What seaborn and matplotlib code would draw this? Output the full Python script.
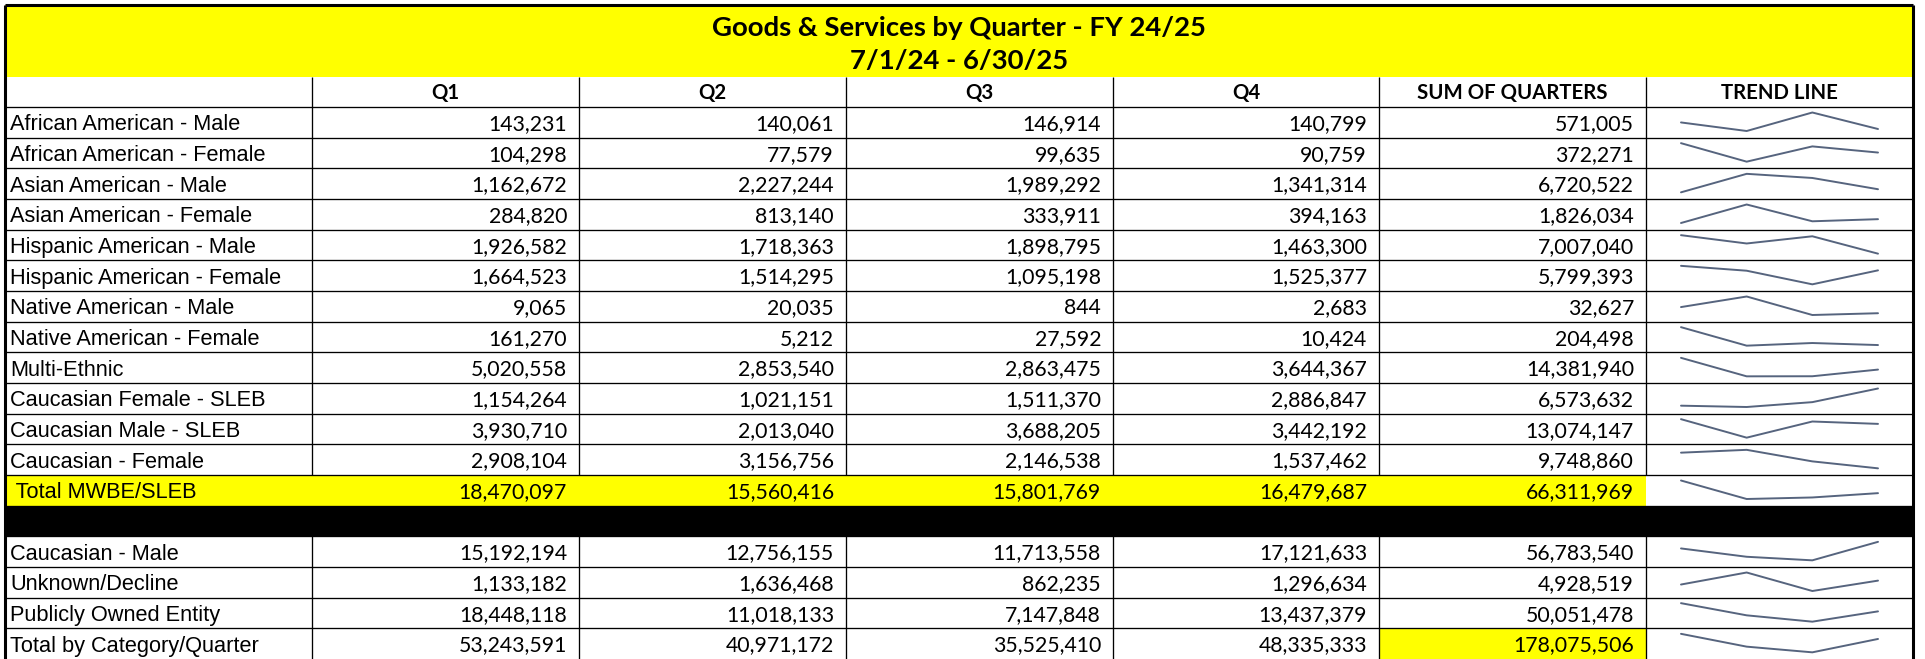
import matplotlib
matplotlib.use("Agg")
import matplotlib.pyplot as plt
from matplotlib import font_manager
import seaborn as sns
import numpy as np
import pandas as pd

# ---------------- data ----------------
title = "Goods & Services by Quarter - FY 24/25"
subtitle = "7/1/24 - 6/30/25"
header_labels = ["Q1", "Q2", "Q3", "Q4", "SUM OF QUARTERS", "TREND LINE"]
quarters = ["Q1", "Q2", "Q3", "Q4"]

categories = [
    "African American - Male",
    "African American - Female",
    "Asian American - Male",
    "Asian American - Female",
    "Hispanic American - Male",
    "Hispanic American - Female",
    "Native American - Male",
    "Native American - Female",
    "Multi-Ethnic",
    "Caucasian Female - SLEB",
    "Caucasian Male - SLEB",
    "Caucasian - Female",
    " Total MWBE/SLEB",
    "Caucasian - Male",
    "Unknown/Decline",
    "Publicly Owned Entity",
    "Total by Category/Quarter",
]
q1 = [143231, 104298, 1162672, 284820, 1926582, 1664523, 9065, 161270, 5020558,
      1154264, 3930710, 2908104, 18470097, 15192194, 1133182, 18448118, 53243591]
q2 = [140061, 77579, 2227244, 813140, 1718363, 1514295, 20035, 5212, 2853540,
      1021151, 2013040, 3156756, 15560416, 12756155, 1636468, 11018133, 40971172]
q3 = [146914, 99635, 1989292, 333911, 1898795, 1095198, 844, 27592, 2863475,
      1511370, 3688205, 2146538, 15801769, 11713558, 862235, 7147848, 35525410]
q4 = [140799, 90759, 1341314, 394163, 1463300, 1525377, 2683, 10424, 3644367,
      2886847, 3442192, 1537462, 16479687, 17121633, 1296634, 13437379, 48335333]
sum_of_quarters = [571005, 372271, 6720522, 1826034, 7007040, 5799393, 32627, 204498,
                   14381940, 6573632, 13074147, 9748860, 66311969, 56783540, 4928519,
                   50051478, 178075506]

TOTAL_MWBE_IDX = 12          # yellow subtotal row
GRAND_TOTAL_IDX = 16         # last row, yellow sum cell

# ---------------- layout (pixels) ----------------
W, H = 1925, 659
DPI = 100
LEFT, RIGHT, TOP = 5, 1913, 5
TITLE_BOTTOM, HEADER_BOTTOM = 77, 107
col_edges = [LEFT, 312, 579, 846, 1113, 1379, 1646, RIGHT]
n_disp_rows = len(categories) + 1            # plus black separator row
row_h = (H - HEADER_BOTTOM) / n_disp_rows
YELLOW = "#FFFF00"
SPARK = "#56647E"

def disp_row(i):
    return i if i <= TOTAL_MWBE_IDX else i + 1

def row_top(r):
    return HEADER_BOTTOM + r * row_h

fig = plt.figure(figsize=(W / DPI, H / DPI), dpi=DPI)
fig.patch.set_facecolor("white")
ax = fig.add_axes([0, 0, 1, 1])
ax.set_xlim(0, W)
ax.set_ylim(H, 0)
ax.axis("off")
renderer = fig.canvas.get_renderer()

avail = {f.name for f in font_manager.fontManager.ttflist}
label_font = "Liberation Sans Narrow" if "Liberation Sans Narrow" in avail else "Liberation Sans"
num_font = "Lato" if "Lato" in avail else "Open Sans"

def fit(s, target, **kw):
    t = ax.text(0, 0, s, fontsize=10, **kw)
    w = t.get_window_extent(renderer).width
    t.remove()
    return 10 * target / w

fs_label = fit("African American - Male", 233, family=label_font)
fs_num = fit("18,470,097", 108, family=num_font)
fs_title = fit(title, 496, family=num_font, weight="bold")
fs_head = fit("SUM OF QUARTERS", 190, family=num_font, weight="bold")

def px(fs):
    return fs * DPI / 72.0

# ---------------- fills ----------------
ax.fill_between([LEFT, RIGHT], TOP, TITLE_BOTTOM, color=YELLOW, lw=0, zorder=0)
r = disp_row(TOTAL_MWBE_IDX)
ax.fill_between([LEFT, col_edges[6]], row_top(r), row_top(r + 1), color=YELLOW, lw=0, zorder=0)
rb = TOTAL_MWBE_IDX + 1
ax.fill_between([LEFT, RIGHT + 2], row_top(rb), row_top(rb + 1), color="black", lw=0, zorder=0)
r = disp_row(GRAND_TOTAL_IDX)
ax.fill_between([col_edges[5], col_edges[6]], row_top(r), row_top(r + 1) + 2, color=YELLOW, lw=0, zorder=0)

# ---------------- grid lines ----------------
thin = 0.95
# horizontal lines
ax.hlines(HEADER_BOTTOM, LEFT, RIGHT, color="black", lw=thin, zorder=2)
for rr in range(1, n_disp_rows):
    ax.hlines(row_top(rr), LEFT, RIGHT, color="black", lw=thin, zorder=2)
# vertical lines per row
for x in col_edges[1:-1]:
    ax.vlines(x, TITLE_BOTTOM, HEADER_BOTTOM, color="black", lw=thin, zorder=2)
for i in range(len(categories)):
    rr = disp_row(i)
    if i == TOTAL_MWBE_IDX:
        continue
    for x in col_edges[1:-1]:
        ax.vlines(x, row_top(rr), row_top(rr + 1), color="black", lw=thin, zorder=2)
# outer border
thick = 2.2
ax.hlines(TOP, LEFT, RIGHT, color="black", lw=thick, zorder=3)
ax.vlines(LEFT, TOP, H, color="black", lw=thick, zorder=3)
ax.vlines(RIGHT, TOP, H, color="black", lw=thick, zorder=3)

# ---------------- texts ----------------
def cap_baseline(center, fs):
    return center + 0.36 * px(fs)

cx = (LEFT + RIGHT) / 2
ax.text(cx, cap_baseline(26, fs_title), title, ha="center", va="baseline",
        fontsize=fs_title, family=num_font, weight="bold", zorder=4)
ax.text(cx, cap_baseline(59, fs_title), subtitle, ha="center", va="baseline",
        fontsize=fs_title, family=num_font, weight="bold", zorder=4)

hc = (TITLE_BOTTOM + HEADER_BOTTOM) / 2
for j, lab in enumerate(header_labels):
    xc = (col_edges[j + 1] + col_edges[j + 2]) / 2
    ax.text(xc, cap_baseline(hc, fs_head), lab, ha="center", va="baseline",
            fontsize=fs_head, family=num_font, weight="bold", zorder=4)

cols = [q1, q2, q3, q4, sum_of_quarters]
for i, cat in enumerate(categories):
    rr = disp_row(i)
    yc = row_top(rr) + row_h / 2
    ax.text(LEFT + 5, cap_baseline(yc, fs_label), cat, ha="left", va="baseline",
            fontsize=fs_label, family=label_font, zorder=4)
    for j, col in enumerate(cols):
        ax.text(col_edges[j + 2] - 12, cap_baseline(yc, fs_num), f"{col[i]:,}",
                ha="right", va="baseline", fontsize=fs_num, family=num_font, zorder=4)

# ---------------- sparklines (seaborn) ----------------
SX0, SX1 = 1681, 1878
for i in range(len(categories)):
    rr = disp_row(i)
    vals = [q1[i], q2[i], q3[i], q4[i]]
    df = pd.DataFrame({"pos": np.arange(len(quarters)), "value": vals, "quarter": quarters})
    y_top = row_top(rr) + 5.5
    y_bot = row_top(rr) + 24
    iax = fig.add_axes([SX0 / W, 1 - y_bot / H, (SX1 - SX0) / W, (y_bot - y_top) / H])
    sns.lineplot(data=df, x="pos", y="value", ax=iax, color=SPARK, linewidth=1.4,
                 legend=False)
    iax.set_xlim(0, len(quarters) - 1)
    iax.set_ylim(min(vals), max(vals))
    iax.axis("off")
    for ln in iax.lines:
        ln.set_clip_on(False)
        ln.set_solid_capstyle("round")
        ln.set_solid_joinstyle("round")

fig.savefig("out.png", dpi=DPI, facecolor="white")
